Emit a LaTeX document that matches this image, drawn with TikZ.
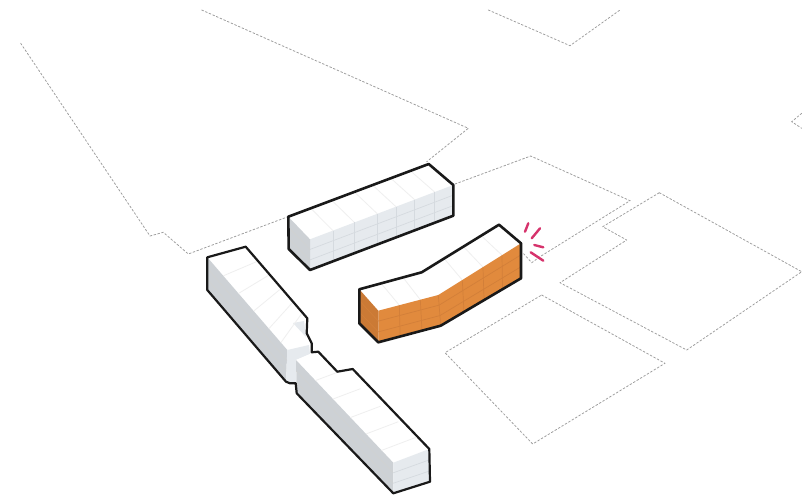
\documentclass[tikz,border=0pt]{standalone}
\usepackage{tikz}
\usetikzlibrary{calc}
\usepackage{tkz-euclide}
\usepackage{xcolor}
\definecolor{sidelight}{HTML}{E6EAEE}
\definecolor{sidegrey}{HTML}{CDD1D5}
\definecolor{gridgrey}{HTML}{D5DADF}
\definecolor{roofgrey}{HTML}{EFEFEF}
\definecolor{blockorange}{HTML}{E18A3D}
\definecolor{blockdark}{HTML}{CB7A35}
\definecolor{gridorange}{HTML}{D27F39}
\definecolor{sparkred}{HTML}{D6336C}
\tikzset{
  siteline/.style={draw=black!38, line width=0.8pt, dash pattern=on 2pt off 2pt},
  outline/.style={draw=black!90, line width=2.6pt, line join=round},
  roofline/.style={draw=roofgrey, line width=0.8pt},
  gridline/.style={draw=gridgrey, line width=0.7pt},
  shadeline/.style={draw=black!18, line width=0.5pt},
  orangeline/.style={draw=gridorange, line width=0.7pt},
  spark/.style={draw=sparkred, line width=2.4pt, line cap=round}
}
\begin{document}
\begin{tikzpicture}[x=1pt, y=-1pt]
    \useasboundingbox (0,0) rectangle (802,498);
    % site boundaries
    \tkzDefPoints{20.7/43.3/S1, 150/236/S2, 163.3/232.3/S3, 188.3/254/S4, 288/216.7/S5,
        201.7/10/S6, 468.3/128.3/S7, 426.7/161.7/S8,
        488.3/10/T1, 570/45.7/T2, 620/10/T3,
        801.7/113.3/R1, 791.7/121.7/R2, 801.7/128.3/R3,
        455/184/U1, 530.7/156/U2, 630/200.7/U3, 540/256.7/U4, 531.7/262.7/U5, 523/253/U6,
        659.3/192.7/V1, 801.7/271.7/V2, 686.7/350/V3, 560/282.7/V4, 626.7/240/V5, 602.7/226.7/V6,
        541.7/295/W1, 665/363.3/W2, 532.7/444/W3, 445/352.7/W4}
    \tkzDrawPolySeg[siteline](S1,S2,S3,S4,S5)
    \tkzDrawPolySeg[siteline](S6,S7,S8)
    \tkzDrawPolySeg[siteline](T1,T2,T3)
    \tkzDrawPolySeg[siteline](R1,R2,R3)
    \tkzDrawPolySeg[siteline](U1,U2,U3,U4,U5,U6)
    \tkzDrawPolygon[siteline](V1,V2,V3,V4,V5,V6)
    \tkzDrawPolygon[siteline](W1,W2,W3,W4)
    % upper block
    \tkzDefPoints{288.3/216.7/A, 428.7/164/B, 453.3/185/C, 453.3/215.7/D, 310/270/E, 288.7/249/F, 310/239.3/G}
    \tkzFillPolygon[fill=white](A,B,C,G)
    \tkzFillPolygon[fill=sidelight](G,C,D,E)
    \tkzFillPolygon[fill=sidegrey](A,G,E,F)
    \foreach \t in {0.16,0.31,0.47,0.6,0.73,0.87}{
        \draw[roofline] ($(A)!\t!(B)$) -- ($(G)!\t!(C)$);
        \draw[gridline] ($(G)!\t!(C)$) -- ($(E)!\t!(D)$);
    }
    \foreach \t in {0.33,0.67}{
        \draw[gridline] ($(G)!\t!(E)$) -- ($(C)!\t!(D)$);
        \draw[shadeline] ($(A)!\t!(F)$) -- ($(G)!\t!(E)$);
    }
    \tkzDrawPolygon[outline](A,B,C,D,E,F)
    % orange block
    \tkzDefPoints{359.3/289.3/H, 421.7/272.3/I, 499/224.7/J, 521/243.3/K, 521/278.3/L, 440.7/325.7/M,
        378.3/342.3/N, 359.3/323.3/O, 378.3/310.7/P, 438.3/295/Q}
    \tkzFillPolygon[fill=white](H,I,J,K,Q,P)
    \fill[blockorange] (P) -- (Q) -- (K) -- (L) -- (M) -- (N) -- cycle;
    \tkzFillPolygon[fill=blockdark](H,P,N,O)
    \foreach \t in {0.35,0.7}{
        \draw[roofline] ($(H)!\t!(I)$) -- ($(P)!\t!(Q)$);
        \draw[orangeline] ($(P)!\t!(Q)$) -- ($(N)!\t!(M)$);
    }
    \foreach \t in {0.29,0.54,0.77}{
        \draw[roofline] ($(I)!\t!(J)$) -- ($(Q)!\t!(K)$);
        \draw[orangeline] ($(Q)!\t!(K)$) -- ($(M)!\t!(L)$);
    }
    \draw[orangeline] (Q) -- (M);
    \foreach \t in {0.33,0.67}{
        \draw[orangeline] ($(P)!\t!(N)$) -- ($(Q)!\t!(M)$) -- ($(K)!\t!(L)$);
        \draw[orangeline] ($(H)!\t!(O)$) -- ($(P)!\t!(N)$);
    }
    \tkzDrawPolygon[outline](H,I,J,K,L,M,N,O)
    % left block, first part
    \tkzDefPoints{207.3/257.3/A1, 245.7/246.7/B1, 307.3/318.3/C1, 306.7/333.3/D1, 311.7/343.3/E1,
        311.7/352.3/F1, 318.3/351.7/G1, 337.3/371.7/H1, 352.7/369/I1, 429.3/449/J1, 430/481.7/K1,
        393.3/493.3/L1, 296.7/393.3/M1, 295.7/383.3/N1, 290/383.3/O1, 286/381.7/P1, 207.3/290/Q1,
        287.3/350/Y1, 309/345/Y2, 296/360/Y3, 393.3/462.7/Y4, 310/354/Y5,
        293/323/Y6, 304/321/Y7, 306/337/Y8}
    \tkzFillPolygon[fill=white](A1,B1,C1,D1,E1,Y2,Y1)
    \tkzFillPolygon[fill=sidelight](Y6,Y7,Y8)
    \tkzFillPolygon[fill=sidegrey](A1,Y1,P1,Q1)
    \tkzFillPolygon[fill=sidelight](Y1,Y2,Y5,Y3,N1,O1,P1)
    \foreach \t in {0.2,0.39,0.58,0.77,0.92}{
        \draw[roofline] ($(A1)!\t!(Y1)$) -- ($(B1)!\t!(C1)$);
    }
    \foreach \t in {0.33,0.67}{
        \draw[shadeline] ($(A1)!\t!(Q1)$) -- ($(Y1)!\t!(P1)$);
    }
    % left block, second part
    \tkzFillPolygon[fill=white](Y3,Y5,F1,G1,H1,I1,J1,Y4)
    \tkzFillPolygon[fill=sidegrey](Y3,Y4,L1,M1)
    \tkzFillPolygon[fill=sidelight](Y4,J1,K1,L1)
    \foreach \t in {0.2,0.38,0.56,0.72,0.88}{
        \draw[roofline] ($(Y3)!\t!(Y4)$) -- ($(G1)!\t!(J1)$);
    }
    \foreach \t in {0.33,0.67}{
        \draw[shadeline] ($(Y3)!\t!(M1)$) -- ($(Y4)!\t!(L1)$);
        \draw[gridline] ($(Y4)!\t!(L1)$) -- ($(J1)!\t!(K1)$);
    }
    \tkzDrawPolygon[outline, line width=2.2pt](A1,B1,C1,D1,E1,F1,G1,H1,I1,J1,K1,L1,M1,N1,O1,P1,Q1)
    % sparks
    \tkzDefPoints{525/231.7/X1, 528.3/223.3/X2, 531.7/238.3/X3, 540/228.3/X4,
        534.3/245/X5, 543.3/247.3/X6, 530.7/252.3/X7, 543.3/260.7/X8}
    \tkzDrawSegments[spark](X1,X2 X3,X4 X5,X6 X7,X8)
\end{tikzpicture}
\end{document}
